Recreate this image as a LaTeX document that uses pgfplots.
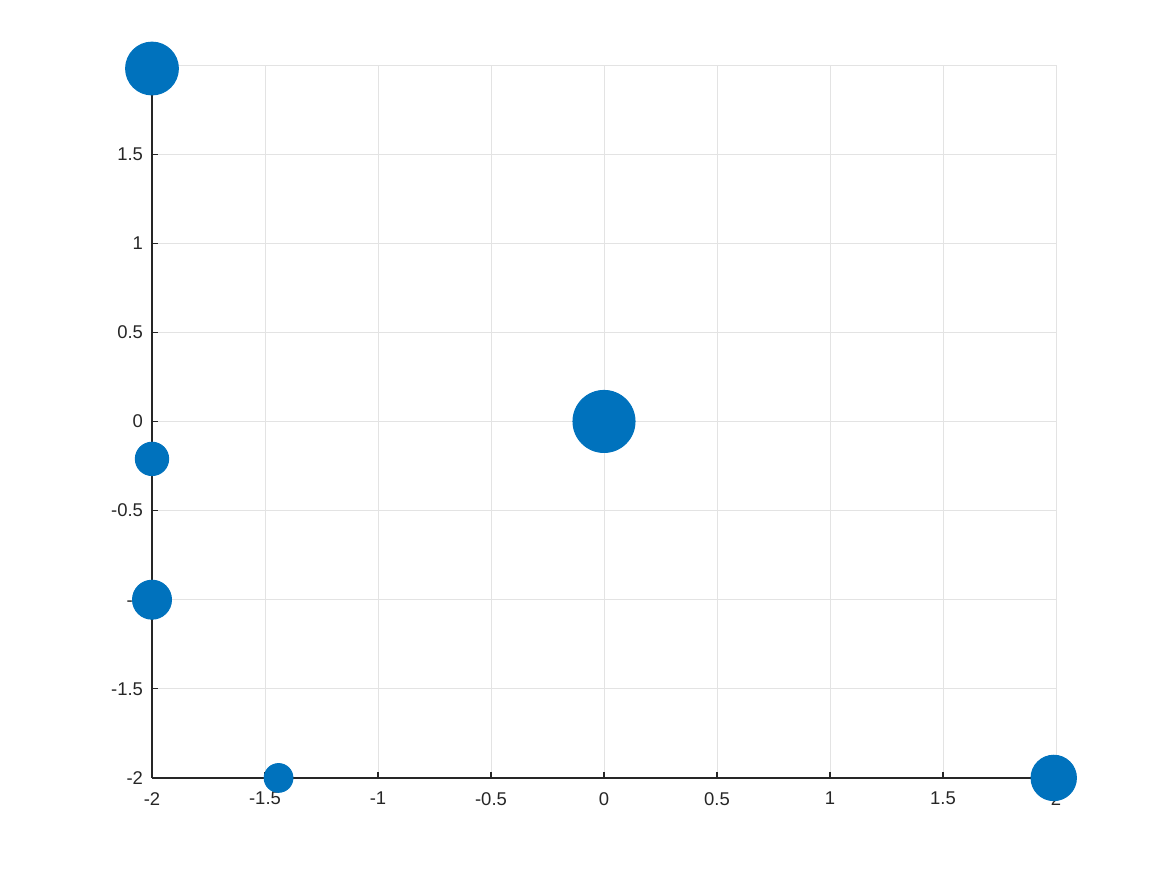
\documentclass[border=0pt]{standalone}
\usepackage{pgfplots}
\pgfplotsset{compat=1.18}
\usepackage{fontspec}
\setmainfont{Liberation Sans}
\definecolor{mblue}{HTML}{0072BD}
\definecolor{axgray}{HTML}{262626}

% x, y, marker radius (pt)
\pgfplotstableread{
x      y      s
-2     1.98   10.3
0      0      12.1
-2    -0.21   6.5
-2    -1      7.6
-1.44 -2      5.6
1.99  -2      8.85
}\points

\begin{document}
\begin{tikzpicture}
\begin{axis}[
    set layers,
    scale only axis,
    width=12.394cm, height=9.775cm,
    xmin=-2, xmax=2, ymin=-2, ymax=2,
    xtick distance=0.5, ytick distance=0.5,
    axis x line=bottom, axis y line=left,
    axis line style={-, axgray, line width=0.5pt},
    tick style={axgray, line width=0.4pt},
    tick align=inside,
    major tick length=2.5pt,
    grid=major,
    grid style={gray!22, line width=0.3pt},
    clip=false,
    ticklabel style={font=\fontsize{7.2}{8}\selectfont, text=axgray},
    xticklabel style={yshift=-2pt},
    /pgf/number format/assume math mode=true,
    /pgf/number format/fixed,
    scaled ticks=false,
]
\addplot[
    only marks, scatter, mark=*,
    mark options={draw=mblue, fill=mblue},
    scatter/use mapped color={draw=mblue, fill=mblue},
    visualization depends on={\thisrow{s} \as \msize},
    scatter/@pre marker code/.append style={/tikz/mark size=\msize},
] table[x=x, y=y] {\points};
\end{axis}
\path[use as bounding box]
    ([xshift=-2.084cm, yshift=-1.330cm]current axis.south west)
    rectangle ([xshift=1.522cm, yshift=0.891cm]current axis.north east);
\end{tikzpicture}
\end{document}
